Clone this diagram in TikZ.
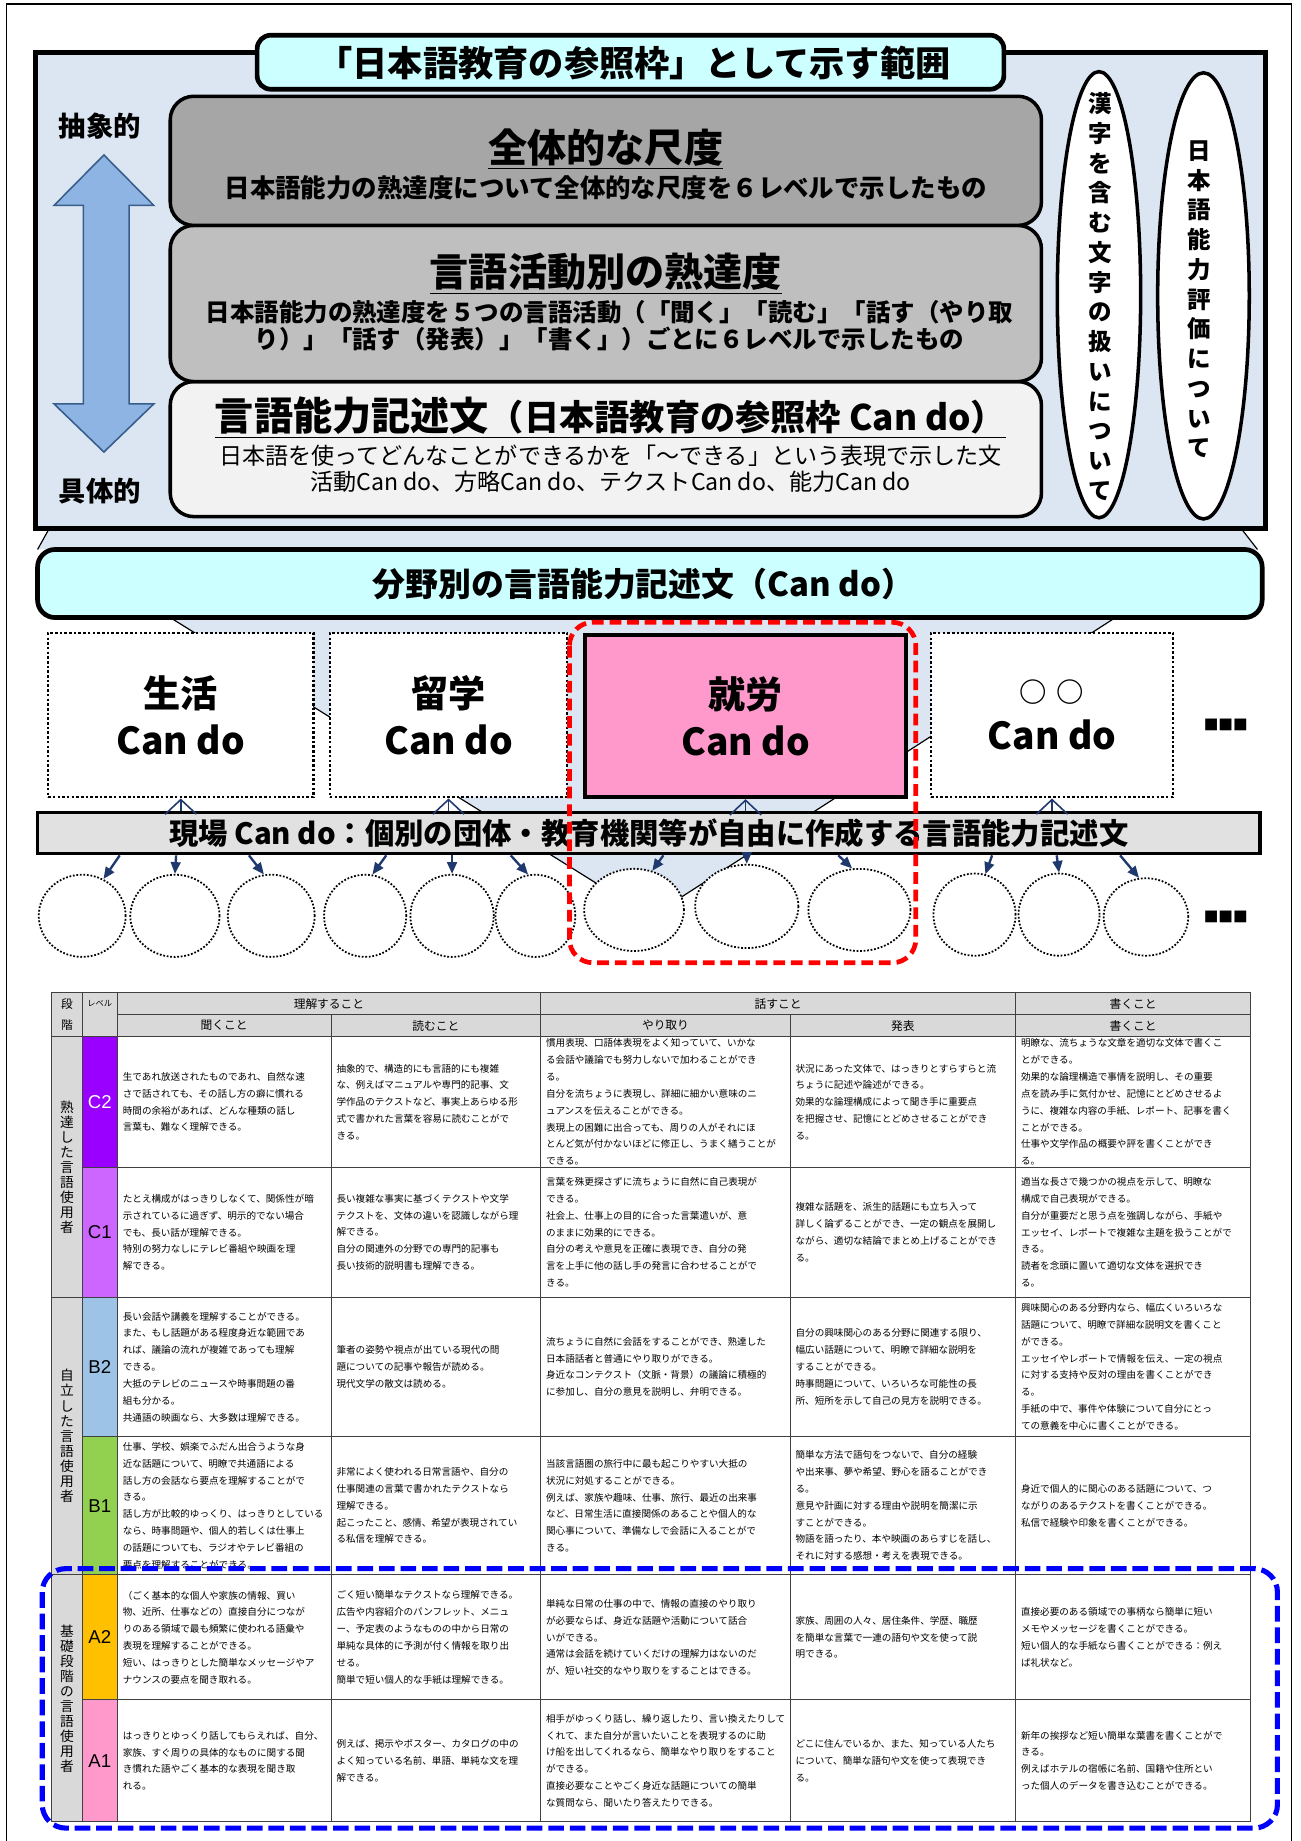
\documentclass[tikz,border=0pt]{standalone}
\usepackage{fontspec}
\setmainfont{Noto Sans CJK JP}
\newfontfamily\lvfont{Liberation Sans}
\usetikzlibrary{arrows.meta,shapes.geometric,fit}

\definecolor{bgblue}{RGB}{220,230,242}
\definecolor{barcyan}{RGB}{204,255,255}
\definecolor{grayA}{RGB}{166,166,166}
\definecolor{grayB}{RGB}{191,191,191}
\definecolor{grayC}{RGB}{242,242,242}
\definecolor{genbagray}{RGB}{225,225,225}
\definecolor{shuropink}{RGB}{255,153,204}
\definecolor{arrowblue}{RGB}{142,180,227}
\definecolor{arrowedge}{RGB}{56,93,138}
\definecolor{navy}{RGB}{31,56,110}
\definecolor{hdrgray}{RGB}{217,217,217}
\definecolor{lvCtwo}{RGB}{153,0,255}
\definecolor{lvCone}{RGB}{204,102,255}
\definecolor{lvBtwo}{RGB}{157,195,230}
\definecolor{lvBone}{RGB}{146,208,80}
\definecolor{lvAtwo}{RGB}{255,192,0}
\definecolor{lvAone}{RGB}{255,153,204}

\tikzset{every picture/.style={line width=0.75pt}}
\tikzset{
  card/.style={draw, fill=white, line width=1.3pt, dash pattern=on 1.3pt off 1.1pt, inner sep=0pt},
  shurocard/.style={draw, fill=shuropink, line width=2pt, inner sep=0pt},
  cardtext/.style={align=center, inner sep=0pt, font=\bfseries\fontsize{19pt}{24pt}\selectfont},
  genbabar/.style={draw, fill=genbagray, line width=1.8pt, inner sep=0pt},
  dotcirc/.style={ellipse, draw, fill=white, line width=0.9pt, dash pattern=on 0.9pt off 0.9pt, inner sep=0pt},
  uparr/.style={draw=navy, line width=0.8pt, -{Straight Barb[length=7.5pt,width=16pt]}},
  downarr/.style={draw=navy, line width=1.2pt, -{Triangle[length=6pt,width=5pt]}},
  vtext/.style={align=center, inner sep=0pt, font=\bfseries\fontsize{12pt}{15.2pt}\selectfont},
  cell/.style={anchor=west, align=left, inner sep=0pt, font=\fontsize{4.9pt}{8.6pt}\selectfont},
  hdr/.style={inner sep=0pt, font=\fontsize{6pt}{7pt}\selectfont},
  lvl/.style={inner sep=0pt, font=\lvfont\fontsize{9.5pt}{10pt}\selectfont},
  stage/.style={align=center, inner sep=0pt, font=\fontsize{7pt}{7.7pt}\selectfont},
  tline/.style={draw=black!75, line width=0.5pt},
  reddash/.style={draw=red, line width=2.4pt, dash pattern=on 6pt off 3pt, rounded corners=12pt},
  bluedash/.style={draw=blue, line width=2.6pt, dash pattern=on 8pt off 3pt, rounded corners=12pt},
}

\begin{document}
\begin{tikzpicture}[x=0.6pt,y=0.6pt,yscale=-1,xscale=1]
\useasboundingbox (0,0) rectangle (1108,1568);
%Frame
\draw[line width=0.9pt] (5.5,1600) -- (5.5,3.5) -- (1100,3.5) -- (1100,1600);

%Shape: Trapezoid under the frame
\fill[bgblue] (42,450) -- (1057,450) -- (1071,468) -- (32,468) -- cycle;
\draw[line width=0.6pt] (42,450) -- (32,468) (1057,450) -- (1071,468);
%Shape: Rectangle
\draw[fill=bgblue, line width=2.4pt] (30,45) rectangle (1078,450);
%Shape: Rounded title
\draw[fill=barcyan, line width=2.4pt, rounded corners=7pt] (219,30) rectangle (855,76);
\node[inner sep=0pt, font=\bfseries\fontsize{18pt}{18pt}\selectfont] (hanni) at (540,54) {「日本語教育の参照枠」として示す範囲};

\node[inner sep=0pt, font=\bfseries\fontsize{14pt}{14pt}\selectfont] (chusho) at (85,107) {抽象的};
\node[inner sep=0pt, font=\bfseries\fontsize{14pt}{14pt}\selectfont] (gutai) at (85,418) {具体的};
%Shape: Up Down Arrow
\draw[fill=arrowblue, draw=arrowedge, line width=0.8pt] (88.5,132) -- (131,175) -- (110,175) -- (110,344) -- (131,344) -- (88.5,385) -- (46,344) -- (71,344) -- (71,175) -- (46,175) -- cycle;

%Shape: three layers
\draw[fill=grayC, line width=1.8pt, rounded corners=12pt] (145,325) rectangle (887,440);
\draw[fill=grayB, line width=1.8pt, rounded corners=12pt] (145,192) rectangle (887,325);
\draw[fill=grayA, line width=1.8pt, rounded corners=12pt] (145,82) rectangle (887,192);

\node[inner sep=0pt, font=\bfseries\fontsize{20pt}{20pt}\selectfont] (zentai) at (516,127) {\underline{全体的な尺度}};
\node[inner sep=0pt, font=\bfseries\fontsize{13pt}{13pt}\selectfont] (zentaisub) at (516,160) {日本語能力の熟達度について全体的な尺度を６レベルで示したもの};
\node[inner sep=0pt, font=\bfseries\fontsize{20pt}{20pt}\selectfont] (katsudo) at (516,233) {\underline{言語活動別の熟達度}};
\node[align=center, inner sep=0pt, font=\bfseries\fontsize{12.5pt}{13.8pt}\selectfont] (katsudosub) at (519,277.5) {日本語能力の熟達度を５つの言語活動（「聞く」「読む」「話す（やり取\\り）」「話す（発表）」「書く」）ごとに６レベルで示したもの};
\node[inner sep=0pt, font=\bfseries] (kijutsu) at (520,356) {\underline{{\fontsize{20pt}{20pt}\selectfont 言語能力記述文}{\fontsize{18pt}{18pt}\selectfont （日本語教育の参照枠 Can do）}}};
\node[align=center, inner sep=0pt, font=\fontsize{11.8pt}{13.2pt}\selectfont] (kijutsusub) at (520,399) {日本語を使ってどんなことができるかを「～できる」という表現で示した文\\活動Can do、方略Can do、テクストCan do、能力Can do};

%Shape: Ellipses
\node[ellipse, draw, fill=white, line width=1.8pt, minimum width=42.6pt, minimum height=228pt, inner sep=0pt] (kanji) at (936,251) {};
\node[vtext] (kanjitext) at (937,252.5) {漢\\字\\を\\含\\む\\文\\字\\の\\扱\\い\\に\\つ\\い\\て};
\node[ellipse, draw, fill=white, line width=1.8pt, minimum width=46.8pt, minimum height=228pt, inner sep=0pt] (hyoka) at (1025,252) {};
\node[vtext] (hyokatext) at (1021,255) {日\\本\\語\\能\\力\\評\\価\\に\\つ\\い\\て};

%Shape: funnel to the cards
\fill[bgblue] (145,526) -- (950,526) -- (554,781) -- cycle;
\draw[line width=0.6pt] (145,526) -- (554,781) -- (950,526);
%Shape: Rounded bar
\draw[fill=barcyan, line width=2.4pt, rounded corners=9pt] (32,468) rectangle (1075,526);
\node[inner sep=0pt, font=\bfseries\fontsize{16.8pt}{16.8pt}\selectfont] (bunya) at (548,497) {分野別の言語能力記述文（Can do）};

%Cards
\node[card, fit={(41,539)(267,679)}] (seikatsu) {};
\node[card, fit={(281,539)(483,679)}] (ryugaku) {};
\node[shurocard, fit={(498,541)(772,679)}] (shuro) {};
\node[card, fit={(793,539)(999,679)}] (maru) {};
\node[cardtext] (seikatsutext) at (seikatsu) {生活\\Can do};
\node[cardtext] (ryugakutext) at (ryugaku) {留学\\Can do};
\node[cardtext] (shurotext) at (shuro) {就労\\Can do};
\node[cardtext] (marutext) at (maru) {{\fontsize{14pt}{14pt}\selectfont ○\hspace{5pt}○}\\Can do};
\node[inner sep=0pt, font=\fontsize{7.5pt}{7.5pt}\selectfont] (dotsA) at (1044,617) {■■■};

%Genba bar
\node[genbabar, fit={(32,692)(1073,727)}] (genba) {};
\node[inner sep=0pt, font=\bfseries\fontsize{15pt}{15pt}\selectfont] (genbatext) at (genba) {現場 Can do：個別の団体・教育機関等が自由に作成する言語能力記述文};
\foreach \c in {seikatsu,ryugaku,shuro,maru}
  \draw[uparr] (genba.north -| \c.south) -- (\c.south);

%Circles
\foreach \n/\cx/\cy/\w/\h in {1/70/780/74/70, 2/149/780/76/70, 3/231/780/74/70, 4/311/780/70/70, 5/385/780/71/70, 6/456/780/68/70, 7/540/775/85/70, 8/636/772/88/71, 9/732/775/87/70, 10/830/779/70/70, 11/902/779/69/70, 12/976/781/72/66}
  \node[dotcirc, minimum width=\w*0.6pt, minimum height=\h*0.6pt] (c\n) at (\cx,\cy) {};
\foreach \gx/\n/\an in {102/1/60, 150/2/90, 212/3/100, 329/4/80, 385/5/90, 435/6/100, 565/7/65, 636/8/90, 714/9/100, 845/10/75, 900/11/90, 954/12/100}
  \draw[downarr] (genba.south -| \gx,0) -- (c\n.\an);
\node[inner sep=0pt, font=\fontsize{7.5pt}{7.5pt}\selectfont] (dotsB) at (1044,781) {■■■};

\draw[reddash] (485,530) rectangle (780,820);

%Table
\fill[hdrgray] (43.5,845.4) rectangle (1065,882.9);
\fill[hdrgray] (43.5,882.9) rectangle (70.4,1551.4);
\fill[lvCtwo] (70.4,882.9) rectangle (99.7,994.2);
\fill[lvCone] (70.4,994.2) rectangle (99.7,1104.9);
\fill[lvBtwo] (70.4,1104.9) rectangle (99.7,1223.5);
\fill[lvBone] (70.4,1223.5) rectangle (99.7,1341.3);
\fill[lvAtwo] (70.4,1341.3) rectangle (99.7,1447.8);
\fill[lvAone] (70.4,1447.8) rectangle (99.7,1551.4);
\draw[tline] (43.5,845.4) rectangle (1065,1551.4);
\foreach \x in {70.4,99.7,460.6,865} \draw[tline] (\x,845.4) -- (\x,1551.4);
\foreach \x in {282,673} \draw[tline] (\x,864.4) -- (\x,1551.4);
\draw[tline] (99.7,864.4) -- (1065,864.4);
\foreach \y in {882.9,1104.9,1341.3} \draw[tline] (43.5,\y) -- (1065,\y);
\foreach \y in {994.2,1223.5,1447.8} \draw[tline] (70.4,\y) -- (1065,\y);

%Header
\node[hdr, align=center, font=\fontsize{6pt}{11pt}\selectfont] (dankai) at (57,864) {段\\階};
\node[hdr, font=\fontsize{4.2pt}{5pt}\selectfont] (level) at (85,855) {レベル};
\node[hdr] (rikai) at (280.2,855) {理解すること};
\node[hdr] (hanasu) at (662.8,855) {話すこと};
\node[hdr] (kaku) at (965,855) {書くこと};
\node[hdr] (hkiku) at (190.9,873.6) {聞くこと};
\node[hdr] (hyomu) at (371.3,873.6) {読むこと};
\node[hdr] (hyaritori) at (566.8,873.6) {やり取り};
\node[hdr] (hhappyo) at (769,873.6) {発表};
\node[hdr] (hkaku) at (965,873.6) {書くこと};

\node[stage] (jukutatsu) at (57,994) {熟\\達\\し\\た\\言\\語\\使\\用\\者};
\node[stage] (jiritsu) at (57,1223) {自\\立\\し\\た\\言\\語\\使\\用\\者};
\node[stage] (kiso) at (57,1447) {基\\礎\\段\\階\\の\\言\\語\\使\\用\\者};

\node[lvl, text=white] (lvCtwo) at (85,938.6) {C2};
\node[lvl] (lvCone) at (85,1049.6) {C1};
\node[lvl] (lvBtwo) at (85,1164.2) {B2};
\node[lvl] (lvBone) at (85,1282.4) {B1};
\node[lvl] (lvAtwo) at (85,1394.6) {A2};
\node[lvl] (lvAone) at (85,1499.6) {A1};

%Row C2
\node[cell] (CtwoL) at (104,938.6) {生であれ放送されたものであれ、自然な速\\さで話されても、その話し方の癖に慣れる\\時間の余裕があれば、どんな種類の話し\\言葉も、難なく理解できる。};
\node[cell] (CtwoR) at (286,938.6) {抽象的で、構造的にも言語的にも複雑\\な、例えばマニュアルや専門的記事、文\\学作品のテクストなど、事実上あらゆる形\\式で書かれた言葉を容易に読むことがで\\きる。};
\node[cell] (CtwoI) at (464.5,938.6) {慣用表現、口語体表現をよく知っていて、いかな\\る会話や議論でも努力しないで加わることができ\\る。\\自分を流ちょうに表現し、詳細に細かい意味のニ\\ュアンスを伝えることができる。\\表現上の困難に出合っても、周りの人がそれにほ\\とんど気が付かないほどに修正し、うまく繕うことが\\できる。};
\node[cell] (CtwoP) at (677,938.6) {状況にあった文体で、はっきりとすらすらと流\\ちょうに記述や論述ができる。\\効果的な論理構成によって聞き手に重要点\\を把握させ、記憶にとどめさせることができ\\る。};
\node[cell] (CtwoW) at (869,938.6) {明瞭な、流ちょうな文章を適切な文体で書くこ\\とができる。\\効果的な論理構造で事情を説明し、その重要\\点を読み手に気付かせ、記憶にとどめさせるよ\\うに、複雑な内容の手紙、レポート、記事を書く\\ことができる。\\仕事や文学作品の概要や評を書くことができ\\る。};

%Row C1
\node[cell] (ConeL) at (104,1049.6) {たとえ構成がはっきりしなくて、関係性が暗\\示されているに過ぎず、明示的でない場合\\でも、長い話が理解できる。\\特別の努力なしにテレビ番組や映画を理\\解できる。};
\node[cell] (ConeR) at (286,1049.6) {長い複雑な事実に基づくテクストや文学\\テクストを、文体の違いを認識しながら理\\解できる。\\自分の関連外の分野での専門的記事も\\長い技術的説明書も理解できる。};
\node[cell] (ConeI) at (464.5,1049.6) {言葉を殊更探さずに流ちょうに自然に自己表現が\\できる。\\社会上、仕事上の目的に合った言葉遣いが、意\\のままに効果的にできる。\\自分の考えや意見を正確に表現でき、自分の発\\言を上手に他の話し手の発言に合わせることがで\\きる。};
\node[cell] (ConeP) at (677,1049.6) {複雑な話題を、派生的話題にも立ち入って\\詳しく論ずることができ、一定の観点を展開し\\ながら、適切な結論でまとめ上げることができ\\る。};
\node[cell] (ConeW) at (869,1049.6) {適当な長さで幾つかの視点を示して、明瞭な\\構成で自己表現ができる。\\自分が重要だと思う点を強調しながら、手紙や\\エッセイ、レポートで複雑な主題を扱うことがで\\きる。\\読者を念頭に置いて適切な文体を選択でき\\る。};

%Row B2
\node[cell] (BtwoL) at (104,1164.2) {長い会話や講義を理解することができる。\\また、もし話題がある程度身近な範囲であ\\れば、議論の流れが複雑であっても理解\\できる。\\大抵のテレビのニュースや時事問題の番\\組も分かる。\\共通語の映画なら、大多数は理解できる。};
\node[cell] (BtwoR) at (286,1164.2) {筆者の姿勢や視点が出ている現代の問\\題についての記事や報告が読める。\\現代文学の散文は読める。};
\node[cell] (BtwoI) at (464.5,1164.2) {流ちょうに自然に会話をすることができ、熟達した\\日本語話者と普通にやり取りができる。\\身近なコンテクスト（文脈・背景）の議論に積極的\\に参加し、自分の意見を説明し、弁明できる。};
\node[cell] (BtwoP) at (677,1164.2) {自分の興味関心のある分野に関連する限り、\\幅広い話題について、明瞭で詳細な説明を\\することができる。\\時事問題について、いろいろな可能性の長\\所、短所を示して自己の見方を説明できる。};
\node[cell] (BtwoW) at (869,1164.2) {興味関心のある分野内なら、幅広くいろいろな\\話題について、明瞭で詳細な説明文を書くこと\\ができる。\\エッセイやレポートで情報を伝え、一定の視点\\に対する支持や反対の理由を書くことができ\\る。\\手紙の中で、事件や体験について自分にとっ\\ての意義を中心に書くことができる。};

%Row B1
\node[cell] (BoneL) at (104,1282.4) {仕事、学校、娯楽でふだん出合うような身\\近な話題について、明瞭で共通語による\\話し方の会話なら要点を理解することがで\\きる。\\話し方が比較的ゆっくり、はっきりとしている\\なら、時事問題や、個人的若しくは仕事上\\の話題についても、ラジオやテレビ番組の\\要点を理解することができる。};
\node[cell] (BoneR) at (286,1282.4) {非常によく使われる日常言語や、自分の\\仕事関連の言葉で書かれたテクストなら\\理解できる。\\起こったこと、感情、希望が表現されてい\\る私信を理解できる。};
\node[cell] (BoneI) at (464.5,1282.4) {当該言語圏の旅行中に最も起こりやすい大抵の\\状況に対処することができる。\\例えば、家族や趣味、仕事、旅行、最近の出来事\\など、日常生活に直接関係のあることや個人的な\\関心事について、準備なしで会話に入ることがで\\きる。};
\node[cell] (BoneP) at (677,1282.4) {簡単な方法で語句をつないで、自分の経験\\や出来事、夢や希望、野心を語ることができ\\る。\\意見や計画に対する理由や説明を簡潔に示\\すことができる。\\物語を語ったり、本や映画のあらすじを話し、\\それに対する感想・考えを表現できる。};
\node[cell] (BoneW) at (869,1282.4) {身近で個人的に関心のある話題について、つ\\ながりのあるテクストを書くことができる。\\私信で経験や印象を書くことができる。};

%Row A2
\node[cell] (AtwoL) at (104,1394.6) {（ごく基本的な個人や家族の情報、買い\\物、近所、仕事などの）直接自分につなが\\りのある領域で最も頻繁に使われる語彙や\\表現を理解することができる。\\短い、はっきりとした簡単なメッセージやア\\ナウンスの要点を聞き取れる。};
\node[cell] (AtwoR) at (286,1394.6) {ごく短い簡単なテクストなら理解できる。\\広告や内容紹介のパンフレット、メニュ\\ー、予定表のようなものの中から日常の\\単純な具体的に予測が付く情報を取り出\\せる。\\簡単で短い個人的な手紙は理解できる。};
\node[cell] (AtwoI) at (464.5,1394.6) {単純な日常の仕事の中で、情報の直接のやり取り\\が必要ならば、身近な話題や活動について話合\\いができる。\\通常は会話を続けていくだけの理解力はないのだ\\が、短い社交的なやり取りをすることはできる。};
\node[cell] (AtwoP) at (677,1394.6) {家族、周囲の人々、居住条件、学歴、職歴\\を簡単な言葉で一連の語句や文を使って説\\明できる。};
\node[cell] (AtwoW) at (869,1394.6) {直接必要のある領域での事柄なら簡単に短い\\メモやメッセージを書くことができる。\\短い個人的な手紙なら書くことができる：例え\\ば礼状など。};

%Row A1
\node[cell] (AoneL) at (104,1499.6) {はっきりとゆっくり話してもらえれば、自分、\\家族、すぐ周りの具体的なものに関する聞\\き慣れた語やごく基本的な表現を聞き取\\れる。};
\node[cell] (AoneR) at (286,1499.6) {例えば、掲示やポスター、カタログの中の\\よく知っている名前、単語、単純な文を理\\解できる。};
\node[cell] (AoneI) at (464.5,1499.6) {相手がゆっくり話し、繰り返したり、言い換えたりして\\くれて、また自分が言いたいことを表現するのに助\\け船を出してくれるなら、簡単なやり取りをすること\\ができる。\\直接必要なことやごく身近な話題についての簡単\\な質問なら、聞いたり答えたりできる。};
\node[cell] (AoneP) at (677,1499.6) {どこに住んでいるか、また、知っている人たち\\について、簡単な語句や文を使って表現でき\\る。};
\node[cell] (AoneW) at (869,1499.6) {新年の挨拶など短い簡単な葉書を書くことがで\\きる。\\例えばホテルの宿帳に名前、国籍や住所とい\\った個人のデータを書き込むことができる。};

\draw[bluedash] (36,1336) rectangle (1088,1557);
\end{tikzpicture}
\end{document}
